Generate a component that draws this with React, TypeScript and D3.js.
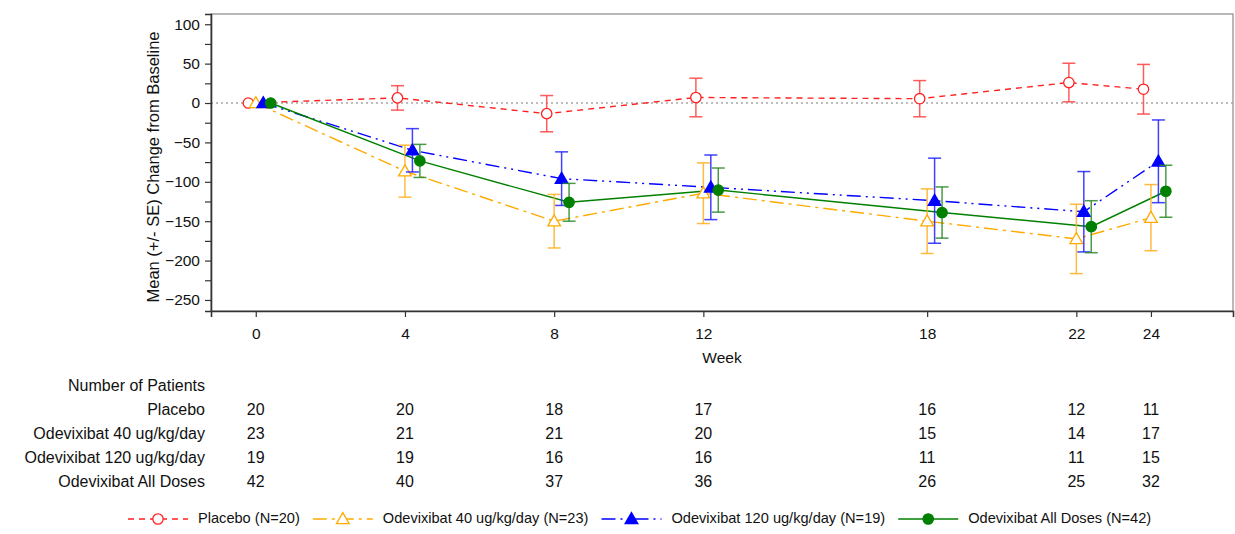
import React, { useEffect, useRef } from "react";
import * as d3 from "d3";

// weeks on the x axis and in the patient table
const weeks = [0, 4, 8, 12, 18, 22, 24];

// mean change from baseline, one array per arm
const placeboMean = [0, 6.5, -13.5, 7, 5.5, 26, 17.5];
const placeboSE = [0, 15.5, 23, 24.5, 23, 24.5, 31.5];
const dose40Mean = [0, -86.5, -150, -114.5, -150, -172.5, -145.5];
const dose40SE = [0, 33, 34, 38.5, 41, 44, 42];
const dose120Mean = [0, -60, -96, -107, -124, -138, -74];
const dose120SE = [0, 27.5, 34, 41, 54, 51, 52.5];
const allMean = [0, -73.5, -126, -110.5, -139, -157, -112];
const allSE = [0, 21, 24, 28, 32.5, 33, 33];

// number of patients at each week
const placeboN = [20, 20, 18, 17, 16, 12, 11];
const dose40N = [23, 21, 21, 20, 15, 14, 17];
const dose120N = [19, 19, 16, 16, 11, 11, 15];
const allN = [42, 40, 37, 36, 26, 25, 32];

const yTicks = [100, 50, 0, -50, -100, -150, -200, -250];
const yMinorTicks = [75, 25, -25, -75, -125, -175, -225];

const series = [
  { label: "Placebo (N=20)", row: "Placebo", mean: placeboMean, se: placeboSE, n: placeboN, color: "#ff2020", bar: "#ff4040", dash: "6,5", marker: "circle", fill: false, offset: -0.2 },
  { label: "Odevixibat 40 ug/kg/day (N=23)", row: "Odevixibat 40 ug/kg/day", mean: dose40Mean, se: dose40SE, n: dose40N, color: "#ffaa00", bar: "#ffb020", dash: "14,5,3,5", marker: "triangle", fill: false, offset: 0 },
  { label: "Odevixibat 120 ug/kg/day (N=19)", row: "Odevixibat 120 ug/kg/day", mean: dose120Mean, se: dose120SE, n: dose120N, color: "#0000ff", bar: "#2020ff", dash: "14,5,2,5,2,5", marker: "triangle", fill: true, offset: 0.2 },
  { label: "Odevixibat All Doses (N=42)", row: "Odevixibat All Doses", mean: allMean, se: allSE, n: allN, color: "#008000", bar: "#2a8a2a", dash: null, marker: "circle", fill: true, offset: 0.4 },
];

const FONT = "'Liberation Sans', Arial, sans-serif";
const TEXT = "#111";

function drawMarker(g: any, s: any, cx: number, cy: number) {
  if (s.marker === "circle") {
    g.append("circle")
      .attr("cx", cx)
      .attr("cy", cy)
      .attr("r", 5.2)
      .attr("fill", s.fill ? s.color : "white")
      .attr("stroke", s.color)
      .attr("stroke-width", 1.3);
  } else {
    const sym = d3.symbol().type(d3.symbolTriangle).size(70);
    g.append("path")
      .attr("d", sym())
      .attr("transform", `translate(${cx},${cy + 1})`)
      .attr("fill", s.fill ? s.color : "white")
      .attr("stroke", s.color)
      .attr("stroke-width", 1.3);
  }
}

const App = () => {
  const ref = useRef<SVGSVGElement>(null);

  useEffect(() => {
    const svg = d3.select(ref.current);
    svg.selectAll("*").remove();

    const left = 211, right = 1233, top = 14, bottom = 311;

    const x = d3.scaleLinear().domain([-1.2, 26.2]).range([left, right]);
    const y = d3.scaleLinear().domain([-264, 113]).range([bottom, top]);

    // frame
    svg.append("rect")
      .attr("x", left).attr("y", top)
      .attr("width", right - left).attr("height", bottom - top)
      .attr("fill", "none").attr("stroke", "#8a8a8a").attr("stroke-width", 1.2);

    // zero reference line
    svg.append("line")
      .attr("x1", left).attr("x2", right)
      .attr("y1", y(0)).attr("y2", y(0))
      .attr("stroke", "#a8a8a8").attr("stroke-width", 1.3)
      .attr("stroke-dasharray", "2,3");

    // y axis
    const yAxis = svg.append("g").attr("transform", `translate(${left},0)`)
      .call(d3.axisLeft(y).tickValues(yTicks).tickSize(6).tickPadding(5).tickFormat(d3.format("d")));
    svg.append("g").attr("transform", `translate(${left},0)`)
      .call(d3.axisLeft(y).tickValues(yMinorTicks).tickSize(6).tickFormat(() => ""))
      .call((g) => g.select(".domain").remove());

    // x axis
    const xAxis = svg.append("g").attr("transform", `translate(0,${bottom})`)
      .call(d3.axisBottom(x).tickValues(weeks).tickSize(6).tickPadding(11).tickFormat(d3.format("d")));

    [yAxis, xAxis].forEach((a) => {
      a.selectAll("text").attr("font-family", FONT).attr("font-size", 15.5).attr("fill", TEXT);
    });
    svg.selectAll(".domain").attr("stroke", "#333").attr("stroke-width", 1.6);
    svg.selectAll(".tick line").attr("stroke", "#333").attr("stroke-width", 1.2);

    // axis titles
    svg.append("text")
      .attr("transform", `translate(155,167) rotate(-90)`)
      .attr("text-anchor", "middle").attr("dominant-baseline", "middle")
      .attr("font-family", FONT).attr("font-size", 16.5).attr("fill", TEXT)
      .text("Mean (+/- SE) Change from Baseline");
    svg.append("text")
      .attr("x", (left + right) / 2).attr("y", 359)
      .attr("text-anchor", "middle").attr("dominant-baseline", "middle")
      .attr("font-family", FONT).attr("font-size", 15.5).attr("fill", TEXT)
      .text("Week");

    // lines, error bars, markers
    const line = d3.line<number>();
    series.forEach((s) => {
      const pts: [number, number][] = weeks.map((w, i) => [x(w + s.offset), y(s.mean[i])]);
      const path = svg.append("path")
        .attr("d", line(pts as any))
        .attr("fill", "none")
        .attr("stroke", s.color)
        .attr("stroke-width", 1.4);
      if (s.dash) path.attr("stroke-dasharray", s.dash);
    });

    series.forEach((s) => {
      const g = svg.append("g");
      weeks.forEach((w, i) => {
        if (s.se[i] <= 0) return;
        const cx = x(w + s.offset);
        const y1 = y(s.mean[i] + s.se[i]);
        const y2 = y(s.mean[i] - s.se[i]);
        g.append("line").attr("x1", cx).attr("x2", cx).attr("y1", y1).attr("y2", y2)
          .attr("stroke", s.bar).attr("stroke-width", 1.5).attr("opacity", 0.85);
        [y1, y2].forEach((yy) => {
          g.append("line").attr("x1", cx - 6.5).attr("x2", cx + 6.5).attr("y1", yy).attr("y2", yy)
            .attr("stroke", s.bar).attr("stroke-width", 1.5).attr("opacity", 0.85);
        });
      });
      weeks.forEach((w, i) => drawMarker(g, s, x(w + s.offset), y(s.mean[i])));
    });

    // number of patients table
    const tableRight = 205;
    svg.append("text")
      .attr("x", tableRight).attr("y", 387)
      .attr("text-anchor", "end").attr("dominant-baseline", "middle")
      .attr("font-family", FONT).attr("font-size", 16).attr("fill", TEXT)
      .text("Number of Patients");
    series.forEach((s, r) => {
      const ry = 411 + r * 24;
      svg.append("text")
        .attr("x", tableRight).attr("y", ry)
        .attr("text-anchor", "end").attr("dominant-baseline", "middle")
        .attr("font-family", FONT).attr("font-size", 16).attr("fill", TEXT)
        .text(s.row);
      weeks.forEach((w, i) => {
        svg.append("text")
          .attr("x", x(w)).attr("y", ry)
          .attr("text-anchor", "middle").attr("dominant-baseline", "middle")
          .attr("font-family", FONT).attr("font-size", 16).attr("fill", TEXT)
          .text(s.n[i]);
      });
    });

    // legend
    const ly = 519;
    let lx = 128;
    series.forEach((s) => {
      const g = svg.append("g");
      const seg = g.append("line").attr("x1", lx).attr("x2", lx + 60).attr("y1", ly).attr("y2", ly)
        .attr("stroke", s.color).attr("stroke-width", 1.4);
      if (s.dash) seg.attr("stroke-dasharray", s.dash);
      drawMarker(g, s, lx + 30, ly);
      const t = g.append("text")
        .attr("x", lx + 70).attr("y", ly)
        .attr("dominant-baseline", "middle")
        .attr("font-family", FONT).attr("font-size", 14.6).attr("fill", TEXT)
        .text(s.label);
      const w = (t.node() as SVGTextElement).getComputedTextLength();
      lx = lx + 70 + w + 13;
    });
  }, []);

  return (
    <svg
      ref={ref}
      width={1235}
      height={534}
      style={{ position: "absolute", left: 0, top: 0, background: "white" }}
    />
  );
};

export default App;
